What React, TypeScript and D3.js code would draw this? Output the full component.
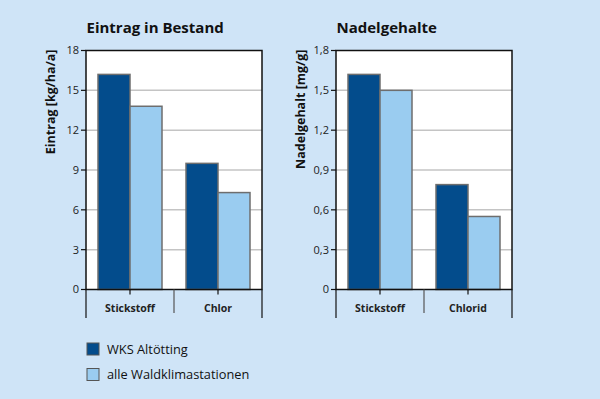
import * as d3 from "d3"

const categoriesLeft = ["Stickstoff", "Chlor"]
const categoriesRight = ["Stickstoff", "Chlorid"]
const series = ["WKS Altötting", "alle Waldklimastationen"]
const eintragWks = [16.2, 9.5]
const eintragAlle = [13.8, 7.3]
const nadelWks = [1.62, 0.79]
const nadelAlle = [1.5, 0.55]
const ticksLeft = [0, 3, 6, 9, 12, 15, 18]
const ticksRight = [0, 0.3, 0.6, 0.9, 1.2, 1.5, 1.8]

const W = 600
const H = 399
const BG = "#cfe4f7"
const DARK = "#034c8c"
const LIGHT = "#9accf0"
const FONT = "'Open Sans', sans-serif"

type PanelProps = {
  x0: number
  title: string
  yLabel: string
  cats: string[]
  a: number[]
  b: number[]
  ticks: number[]
  fmt: (v: number) => string
}

function Panel({ x0, title, yLabel, cats, a, b, ticks, fmt }: PanelProps) {
  const top = 50.5
  const bottom = 289.5
  const w = 176
  const y = d3
    .scaleLinear()
    .domain([0, ticks[ticks.length - 1]])
    .range([bottom, top])
  const x = d3.scaleBand<string>().domain(cats).range([x0, x0 + w])
  const inner = d3
    .scaleBand<string>()
    .domain(series)
    .range([0, x.bandwidth()])
    .paddingOuter(0.375)
  const bandBottom = 318

  return (
    <g fontFamily={FONT}>
      <text x={x0 + 0.5} y={33} fontSize={15} fontWeight={700} fill="#111">
        {title}
      </text>
      <text
        transform={`translate(${x0 - 31},${top - 1}) rotate(-90)`}
        textAnchor="end"
        fontSize={12.5}
        fontWeight={700}
        fill="#111"
      >
        {yLabel}
      </text>
      <rect x={x0} y={top} width={w} height={bottom - top} fill="#fff" />
      {ticks.slice(1, -1).map((t) => (
        <line
          key={t}
          x1={x0}
          x2={x0 + w}
          y1={y(t)}
          y2={y(t)}
          stroke="#c4c4c4"
          strokeWidth={1.5}
        />
      ))}
      {cats.map((c, i) =>
        [a[i], b[i]].map((v, j) => (
          <rect
            key={c + j}
            x={x(c)! + inner(series[j])!}
            y={y(v)}
            width={inner.bandwidth()}
            height={bottom - y(v)}
            fill={j === 0 ? DARK : LIGHT}
            stroke="#6e6e6e"
            strokeWidth={1.5}
          />
        )),
      )}
      <rect
        x={x0}
        y={top}
        width={w}
        height={bottom - top}
        fill="none"
        stroke="#111"
        strokeWidth={1.5}
      />
      {ticks.map((t) => (
        <g key={t}>
          <line x1={x0 - 5} x2={x0} y1={y(t)} y2={y(t)} stroke="#111" strokeWidth={1.2} />
          <text
            x={x0 - 7}
            y={y(t)}
            dy="0.35em"
            textAnchor="end"
            fontSize={11}
            fill="#222"
          >
            {fmt(t)}
          </text>
        </g>
      ))}
      <line x1={x0} x2={x0} y1={bottom} y2={bandBottom} stroke="#111" strokeWidth={1.2} />
      <line x1={x0 + w} x2={x0 + w} y1={bottom} y2={bandBottom} stroke="#111" strokeWidth={1.2} />
      <line
        x1={x(cats[1])!}
        x2={x(cats[1])!}
        y1={bottom}
        y2={bandBottom - 5}
        stroke="#555"
        strokeWidth={1.2}
      />
      {cats.map((c) => (
        <g key={c}>
          <line
            x1={x(c)! + x.bandwidth() / 2}
            x2={x(c)! + x.bandwidth() / 2}
            y1={bottom}
            y2={bottom + 5}
            stroke="#111"
            strokeWidth={1.2}
          />
          <text
            x={x(c)! + x.bandwidth() / 2}
            y={312}
            textAnchor="middle"
            fontSize={10.5}
            fontWeight={700}
            fill="#222"
          >
            {c}
          </text>
        </g>
      ))}
    </g>
  )
}

export default function App() {
  const comma = (v: number) => (v === 0 ? "0" : d3.format(".1f")(v).replace(".", ","))
  return (
    <svg
      width={W}
      height={H}
      style={{ position: "absolute", left: 0, top: 0 }}
    >
      <rect width={W} height={H} fill={BG} />
      <Panel
        x0={86}
        title="Eintrag in Bestand"
        yLabel="Eintrag [kg/ha/a]"
        cats={categoriesLeft}
        a={eintragWks}
        b={eintragAlle}
        ticks={ticksLeft}
        fmt={(v) => String(v)}
      />
      <Panel
        x0={336}
        title="Nadelgehalte"
        yLabel="Nadelgehalt [mg/g]"
        cats={categoriesRight}
        a={nadelWks}
        b={nadelAlle}
        ticks={ticksRight}
        fmt={comma}
      />
      {series.map((s, i) => (
        <g key={s} fontFamily={FONT}>
          <rect
            x={87}
            y={343 + i * 25.5}
            width={12}
            height={12}
            fill={i === 0 ? DARK : LIGHT}
            stroke="#555"
            strokeWidth={1}
          />
          <text x={107} y={354 + i * 25} fontSize={12.8} fill="#111">
            {s}
          </text>
        </g>
      ))}
    </svg>
  )
}
